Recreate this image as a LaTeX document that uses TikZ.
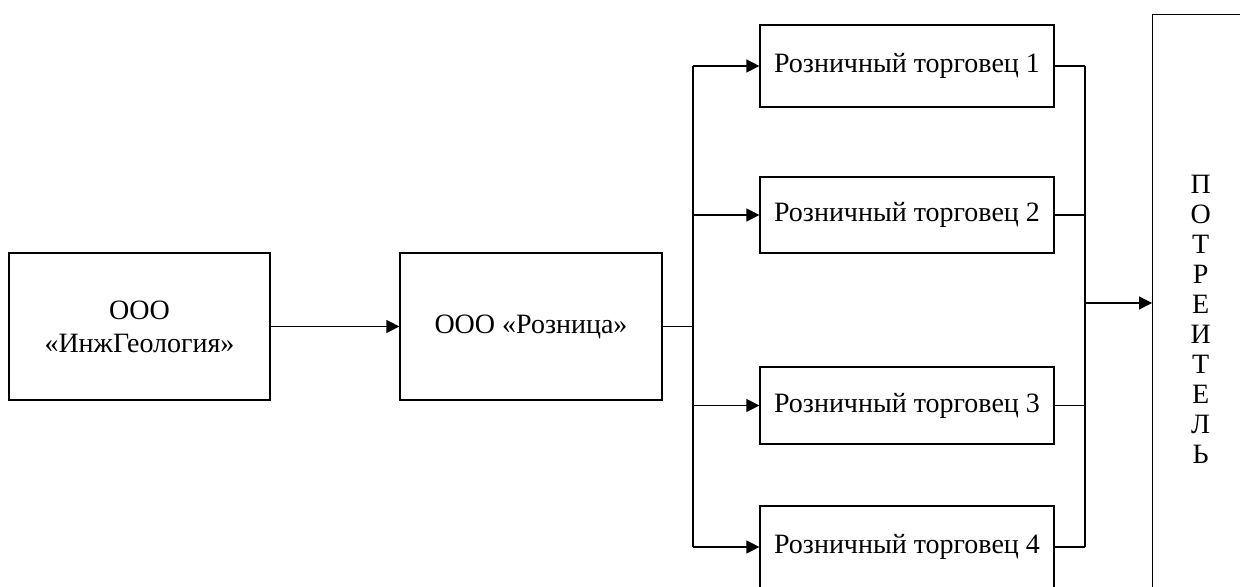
\documentclass[tikz,border=0pt]{standalone}
\usepackage{fontspec}
\setmainfont{Liberation Serif}
\usepackage{tikz}
\usetikzlibrary{arrows.meta}

\tikzset{
  firm/.style={draw=black, line width=0.6pt, align=center, inner sep=0pt,
    font=\fontsize{14}{16.5}\selectfont},
  shop/.style={firm, minimum width=147pt},
  arr/.style={-{Triangle[length=6.5pt,width=6.5pt]}},
}

\begin{document}
\begin{tikzpicture}[x=0.5pt,y=-0.5pt,line width=0.6pt]
        \clip (0,0) rectangle (1240,587);
        \useasboundingbox (0,0) rectangle (1240,587);

        \node[firm, minimum width=130.5pt, minimum height=73.5pt] (ingeo) at (139.5,326.5) {ООО\\«ИнжГеология»};
        \node[firm, minimum width=131pt, minimum height=73.5pt] (roznica) at (531,326.5) {ООО «Розница»};

        \node[shop, minimum height=41pt] (shop1) at (907,66) {Розничный торговец 1};
        \node[shop, minimum height=38pt] (shop2) at (907,215) {Розничный торговец 2};
        \node[shop, minimum height=38.5pt] (shop3) at (907,405.5) {Розничный торговец 3};
        \node[shop, minimum height=41pt] (shop4) at (907,547) {Розничный торговец 4};

        \node[firm, anchor=north west, minimum width=48pt, minimum height=305pt,
              font=\fontsize{14}{15}\selectfont] (buyer) at (1152,14)
              {П\\О\\Т\\Р\\Е\\И\\Т\\Е\\Л\\Ь};

        \coordinate (split) at (693,326.5);
        \coordinate (join) at (1085,303);

        \draw[arr] (ingeo) -- (roznica);
        \draw (roznica.east) -- (split);
        \draw (split |- shop1) -- (split |- shop4);
        \foreach \s in {shop1,shop2,shop3,shop4}
            \draw[arr] (split |- \s) -- (\s.west);

        \foreach \s in {shop1,shop2,shop3,shop4}
            \draw (\s.east) -- (join |- \s);
        \draw (join |- shop1) -- (join |- shop4);
        \draw[arr] (join) -- (buyer.west |- join);
    \end{tikzpicture}
\end{document}
